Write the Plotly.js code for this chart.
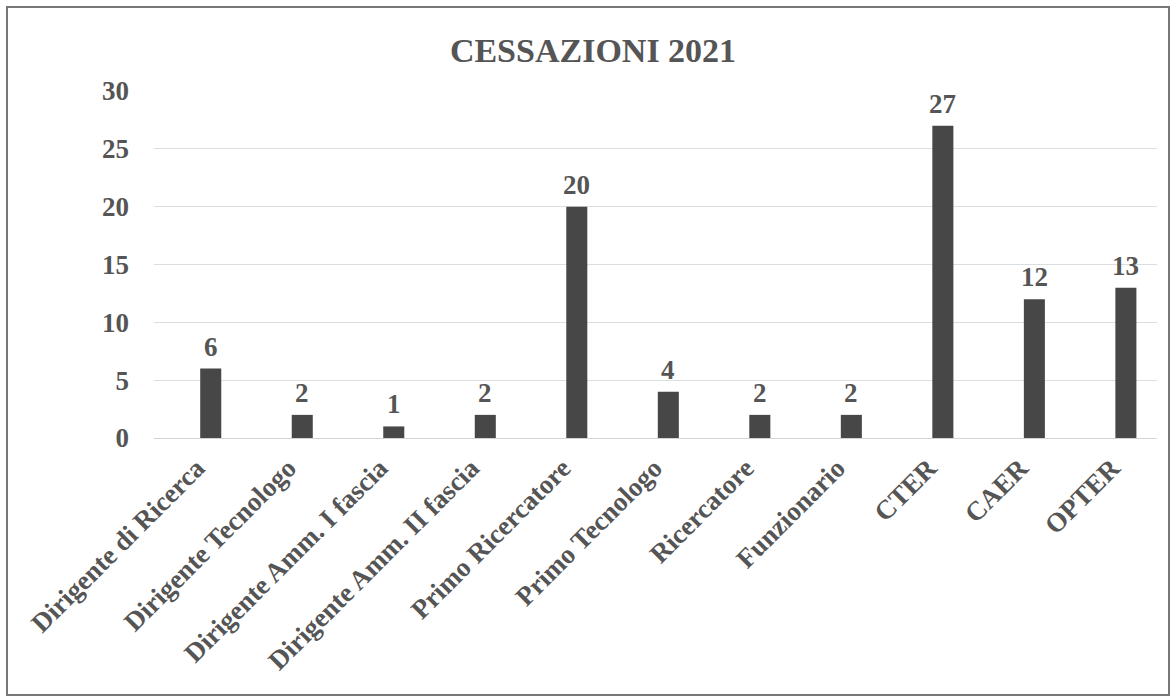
<!DOCTYPE html>
<html>
<head>
<meta charset="utf-8">
<script src="https://cdn.plot.ly/plotly-3.0.1.min.js"></script>
<style>
html,body{margin:0;padding:0;background:#fff;}
#chart{width:1175px;height:699px;}
</style>
</head>
<body>
<div id="chart"></div>
<script>
var categories = ["Dirigente di Ricerca","Dirigente Tecnologo","Dirigente Amm. I fascia","Dirigente Amm. II fascia","Primo Ricercatore","Primo Tecnologo","Ricercatore","Funzionario","CTER","CAER","OPTER"];
var values = [6,2,1,2,20,4,2,2,27,12,13];
var yTicks = [0,5,10,15,20,25,30];

var serif = "Liberation Serif, Times New Roman, serif";
var textColor = "#555555";

var trace = {
  type: "bar",
  x: categories.map(function(c, i){ return i; }),
  y: values,
  width: 0.23,
  marker: {color: "#474747"},
  hoverinfo: "skip"
};

var annotations = values.map(function(v, i){
  return {
    x: i, y: v, xref: "x", yref: "y",
    text: "<b>" + v + "</b>", showarrow: false,
    yanchor: "bottom", yshift: 5,
    font: {family: serif, size: 27, color: textColor}
  };
});

var layout = {
  width: 1175, height: 699,
  margin: {l: 154, r: 18, t: 91, b: 261},
  paper_bgcolor: "#ffffff",
  plot_bgcolor: "#ffffff",
  showlegend: false,
  title: {
    text: "<b>CESSAZIONI 2021</b>",
    font: {family: serif, size: 34, color: textColor},
    x: 593 / 1175, xref: "container", xanchor: "center",
    y: 0.928, yref: "container", yanchor: "middle"
  },
  xaxis: {
    range: [-0.62, 10.34],
    tickmode: "array",
    tickvals: categories.map(function(c, i){ return i; }),
    ticktext: categories.map(function(c){ return "<b>" + c + "</b>"; }),
    tickangle: -45,
    tickfont: {family: serif, size: 27, color: textColor},
    ticklabelshift: -14,
    ticklabelstandoff: 8,
    showgrid: false,
    zeroline: false,
    showline: false,
    ticks: "",
    fixedrange: true
  },
  yaxis: {
    range: [0, 30],
    tickmode: "array",
    tickvals: yTicks,
    ticktext: yTicks.map(function(t){ return "<b>" + t + "</b>"; }),
    tickfont: {family: serif, size: 27, color: textColor},
    showgrid: true,
    gridcolor: "#d9dede",
    gridwidth: 1,
    zeroline: true,
    zerolinecolor: "#d0d5d5",
    zerolinewidth: 1,
    showline: false,
    ticks: "",
    ticklabelstandoff: 24,
    fixedrange: true
  },
  annotations: annotations,
  shapes: [{
    type: "rect", xref: "paper", yref: "paper",
    x0: (7 - 154) / 1003, x1: (1169 - 154) / 1003,
    y0: (438 - 695) / 347, y1: (438 - 7) / 347,
    line: {color: "#777777", width: 2},
    fillcolor: "rgba(0,0,0,0)"
  }]
};

Plotly.newPlot("chart", [trace], layout, {displayModeBar: false, staticPlot: true});
</script>
</body>
</html>
